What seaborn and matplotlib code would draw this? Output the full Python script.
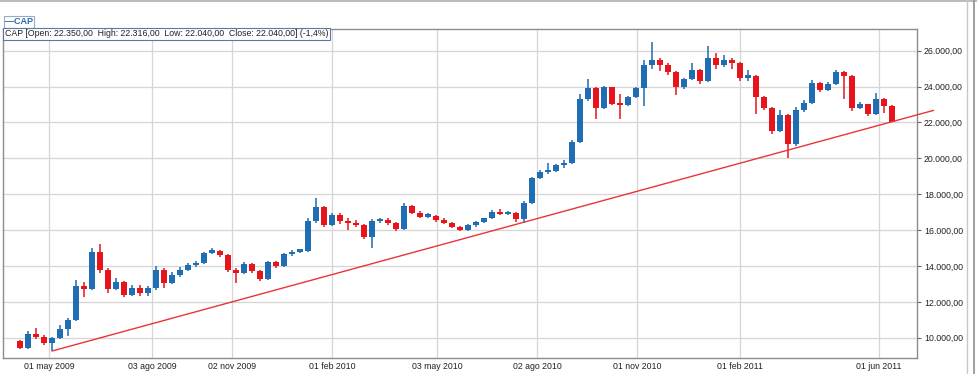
import numpy as np
import pandas as pd
import matplotlib
matplotlib.use("Agg")
import matplotlib.pyplot as plt
import seaborn as sns
from matplotlib.lines import Line2D

# weekly OHLC (CAP, may 2009 - jun 2011)
opens = [9800, 9450, 10200, 10050, 9700, 10000, 10500, 11000, 12900, 12700,
         14800, 13800, 12700, 13100, 12400, 12800, 12500, 12750, 13800, 13050,
         13500, 13800, 14050, 14150, 14750, 14850, 14600, 13800, 13600, 14100,
         13700, 13250, 14200, 14000, 14650, 14800, 14850, 16500, 17300, 16300,
         16850, 16500, 16400, 16300, 15600, 16500, 16550, 16400, 16050, 17350,
         16950, 16750, 16800, 16550, 16400, 16200, 16000, 16300, 16450, 16650,
         17000, 16900, 16950, 16600, 17500, 18900, 19250, 19300, 19600, 19750,
         20900, 23300, 23900, 22800, 23950, 23050, 22950, 23400, 23900, 25200,
         25500, 25200, 24800, 24000, 24400, 24900, 24300, 25600, 25200, 25500,
         25300, 24500, 24600, 23400, 22800, 21500, 22400, 20800, 22700, 23100,
         24200, 23800, 24150, 24800, 24600, 22800, 23000, 22450, 23300, 22900]
highs = [9850, 10400, 10550, 10150, 10050, 10700, 11100, 13200, 13100, 15000,
         15200, 13900, 13350, 13150, 12950, 12950, 12900, 14000, 13900, 13650,
         13950, 14150, 14250, 14800, 15000, 14900, 14650, 13900, 14200, 14150,
         13800, 14300, 14250, 14750, 14900, 14950, 16700, 17800, 17350, 16950,
         16950, 16700, 16550, 16350, 16600, 16700, 16650, 16450, 17500, 17400,
         17050, 16950, 16850, 16700, 16450, 16250, 16350, 16500, 16700, 17100,
         17150, 17050, 17000, 17600, 18950, 19350, 19750, 19700, 19900, 21000,
         23600, 24430, 24000, 24050, 24000, 23600, 23500, 24000, 25500, 26500,
         25600, 25300, 24850, 24500, 25300, 25000, 26260, 25850, 25750, 25600,
         25350, 24900, 24650, 23450, 22850, 22700, 22450, 22850, 23250, 24350,
         24250, 24250, 24900, 24850, 24650, 23150, 23050, 23650, 23350, 22950]
lows = [9350, 9400, 9950, 9600, 9260, 9950, 10100, 10950, 12250, 12650,
        13600, 12500, 12650, 12250, 12300, 12350, 12350, 12650, 12800, 13000,
        13400, 13700, 13950, 14100, 14650, 14500, 13650, 13050, 13550, 13600,
        13150, 13200, 13900, 13950, 14550, 14700, 14800, 16400, 16150, 16250,
        16350, 15980, 16200, 15500, 14980, 16400, 16300, 15950, 16000, 16900,
        16650, 16650, 16450, 16350, 16100, 15950, 15950, 16200, 16400, 16600,
        16850, 16850, 16450, 16400, 17450, 18850, 19100, 19250, 19450, 19700,
        20850, 23200, 22200, 22750, 22950, 22200, 22900, 23350, 22920, 25000,
        24850, 24650, 23550, 23850, 24350, 24150, 24250, 25000, 25100, 25000,
        24300, 24300, 22480, 22700, 21350, 21450, 20040, 20700, 22600, 23050,
        23700, 23750, 24100, 23300, 22650, 22750, 22350, 22400, 22500, 22040]
closes = [9450, 10200, 10050, 9700, 10000, 10500, 11000, 12900, 12700, 14800,
          13800, 12700, 13100, 12400, 12800, 12500, 12750, 13800, 13050, 13500,
          13800, 14050, 14150, 14750, 14850, 14600, 13800, 13600, 14100, 13700,
          13250, 14200, 14000, 14650, 14800, 14850, 16500, 17300, 16300, 16850,
          16500, 16400, 16300, 15600, 16500, 16550, 16400, 16050, 17350, 16950,
          16750, 16800, 16550, 16400, 16200, 16000, 16300, 16450, 16650, 17000,
          16900, 16950, 16600, 17500, 18900, 19250, 19300, 19600, 19750, 20900,
          23300, 23900, 22800, 23950, 23050, 22950, 23400, 23900, 25200, 25500,
          25200, 24800, 24000, 24400, 24900, 24300, 25600, 25200, 25500, 25300,
          24500, 24600, 23400, 22800, 21500, 22400, 20800, 22700, 23100, 24200,
          23800, 24150, 24800, 24600, 22800, 23000, 22450, 23300, 22900, 22040]

tick_labels = ["01 may 2009", "03 ago 2009", "02 nov 2009", "01 feb 2010", "03 may 2010",
               "02 ago 2010", "01 nov 2010", "01 feb 2011", "01 jun 2011"]
tick_pos = [3.625, 16.5, 26.5, 39, 52.125, 64.625, 77.125, 90, 107.375]
y_ticks = [10000, 12000, 14000, 16000, 18000, 20000, 22000, 24000, 26000]

# support line drawn from the may 2009 low through the last low
trend_from = 4
trend_to = len(lows) - 1
trend_extend_to = 114.2

df = pd.DataFrame({"open": opens, "high": highs, "low": lows, "close": closes})
df["idx"] = np.arange(len(df))
up_col = "#1f6db3"
down_col = "#e8141c"
df["col"] = np.where(df["close"] >= df["open"], up_col, down_col)

sns.set_style("white")
plt.rcParams["font.family"] = ["Liberation Sans", "DejaVu Sans"]

fig = plt.figure(figsize=(9.77, 3.74), dpi=100)
ax = fig.add_axes([3 / 977, 16 / 374, 914 / 977, 329 / 374])

for t in y_ticks:
    ax.axhline(t, color="#d6d6d6", lw=0.9, zorder=0)
for t in tick_pos:
    ax.axvline(t, color="#d6d6d6", lw=0.9, zorder=0)

ax.vlines(df["idx"], df["low"], df["high"], colors=df["col"], lw=1.3, alpha=0.85, zorder=2)
body_lo = np.minimum(df["open"], df["close"])
body_h = np.maximum(np.abs(df["close"] - df["open"]), 120)
ax.bar(df["idx"], body_h, bottom=body_lo, width=0.8, color=df["col"], lw=0, zorder=3)

slope = (lows[trend_to] - lows[trend_from]) / (trend_to - trend_from)
tx = np.array([trend_from, trend_extend_to])
ty = lows[trend_from] + slope * (tx - trend_from)
sns.lineplot(x=tx, y=ty, ax=ax, color="#e8343a", lw=1.0, zorder=4, clip_on=False)

ax.set_xlim(-2.125, 112.125)
ax.set_ylim(8872, 27206)
ax.set_xticks(tick_pos)
ax.set_xticklabels(tick_labels)
ax.set_yticks(y_ticks)
ax.set_yticklabels([f"{v:,.2f}".replace(",", "X").replace(".", ",").replace("X", ".") for v in y_ticks])
ax.yaxis.tick_right()
ax.tick_params(axis="y", length=3, width=0.8, color="#666666", labelsize=6.3, pad=2, labelcolor="#222222")
ax.tick_params(axis="x", length=0, labelsize=6.3, pad=3, labelcolor="#222222")
for s in ax.spines.values():
    s.set_color("#8c8c8c")
    s.set_linewidth(1.0)
ax.grid(False)

fig.text(5 / 977, 1 - 22 / 374, "\u2014CAP", fontsize=6.5, fontweight="bold", color="#2a6cb0",
         va="center", ha="left",
         bbox=dict(boxstyle="square,pad=0.15", fc="white", ec="#9aa8c0", lw=0.8))
fig.text(5 / 977, 1 - 34 / 374,
         "CAP [Open: 22.350,00  High: 22.316,00  Low: 22.040,00  Close: 22.040,00] (-1,4%)",
         fontsize=6.3, color="#222222", va="center", ha="left",
         bbox=dict(boxstyle="square,pad=0.2", fc="white", ec="#5a78a8", lw=0.8))

fig.add_artist(Line2D([0, 1], [1 - 1 / 374, 1 - 1 / 374], color="#b0b0b0", lw=1.2))
fig.add_artist(Line2D([967 / 977, 967 / 977], [0, 1], color="#c8c8c8", lw=1.0))
fig.add_artist(Line2D([974 / 977, 974 / 977], [0, 1], color="#909090", lw=1.2))

fig.savefig("out.png", dpi=100)
